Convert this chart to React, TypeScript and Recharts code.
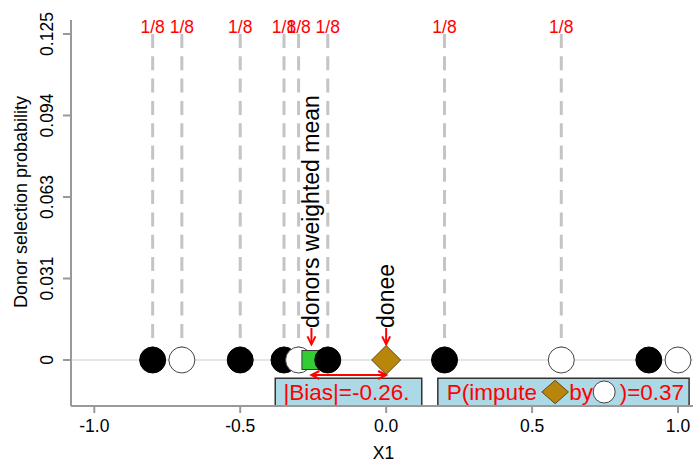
import { ComposedChart, Scatter, XAxis, YAxis, ReferenceLine, ReferenceArea } from 'recharts';

// units on X1: filled = responding unit, open = other class
const unitX = [-0.8, -0.7, -0.5, -0.35, -0.3, -0.2, 0.2, 0.6, 0.9, 1.0];
const unitFilled = [true, false, true, true, false, true, true, false, true, false];

// donors and their selection probability
const donorX = [-0.8, -0.7, -0.5, -0.35, -0.3, -0.2, 0.2, 0.6];
const donorProb = [0.125, 0.125, 0.125, 0.125, 0.125, 0.125, 0.125, 0.125];
const donorLabel = ['1/8', '1/8', '1/8', '1/8', '1/8', '1/8', '1/8', '1/8'];

const doneeX = 0;
const weightedMean = -0.256;

const biasText = '|Bias|=-0.26.';
const probText = ['P(impute', 'by', ')=0.37'];

const xTicks = [-1, -0.5, 0, 0.5, 1];
const xTickLabels = ['-1.0', '-0.5', '0.0', '0.5', '1.0'];
const yTicks = [0, 0.03125, 0.0625, 0.09375, 0.125];
const yTickLabels = ['0', '0.031', '0.063', '0.094', '0.125'];

// layout (data units)
const X_DOMAIN: [number, number] = [-1.0798, 1.0616];
const Y_DOMAIN: [number, number] = [-0.01764, 0.13037];
const ARROW_TOP = 0.0123;
const ARROW_TIP = 0.006;
const BIAS_Y = -0.00575;
const BOX_TOP = -0.00702;
const BOX_TEXT_Y = -0.01534;
const BOX_GLYPH_Y = -0.01227;
const BIAS_BOX = [-0.38, 0.122];
const PROB_BOX = [0.177, 1.038];
const BIAS_TEXT_X = -0.352;
const PROB_TEXT_X = [0.208, 0.627, 0.8];
const PROB_GLYPH_X = [0.579, 0.747];

const RED = '#ff0000';
const AXIS = '#999999';
const FONT = "'Liberation Sans', Arial, sans-serif";

const units = unitX.map((x, i) => ({ x, y: 0, filled: unitFilled[i] }));
const leftUnits = units.filter((u) => u.x < weightedMean);
const rightUnits = units.filter((u) => u.x > weightedMean);
const donors = donorX.map((x, i) => ({ x, y: donorProb[i], label: donorLabel[i] }));
const notes = [
  { x: weightedMean, y: ARROW_TOP, text: 'donors weighted mean' },
  { x: doneeX, y: ARROW_TOP, text: 'donee' },
];
const heads = [
  { x: weightedMean, y: ARROW_TIP, dir: 'down' },
  { x: doneeX, y: ARROW_TIP, dir: 'down' },
  { x: weightedMean, y: BIAS_Y, dir: 'left' },
  { x: doneeX, y: BIAS_Y, dir: 'right' },
];
const boxTexts = [
  { x: BIAS_TEXT_X, y: BOX_TEXT_Y, text: biasText },
  ...probText.map((t, i) => ({ x: PROB_TEXT_X[i], y: BOX_TEXT_Y, text: t })),
];
const boxGlyphs = [
  { x: PROB_GLYPH_X[0], y: BOX_GLYPH_Y, kind: 'diamond' },
  { x: PROB_GLYPH_X[1], y: BOX_GLYPH_Y, kind: 'circle' },
];

function diamond(cx: number, cy: number, hw: number, hh: number) {
  return (
    <polygon
      points={`${cx},${cy - hh} ${cx + hw},${cy} ${cx},${cy + hh} ${cx - hw},${cy}`}
      fill="#b8860b"
      stroke="#5c4a12"
      strokeWidth={1}
    />
  );
}

const unitShape = (p: any) => (
  <circle
    cx={p.cx}
    cy={p.cy}
    r={13}
    fill={p.payload.filled ? '#000' : '#fff'}
    stroke={p.payload.filled ? '#000' : '#444'}
    strokeWidth={1}
  />
);

const headShape = (p: any) => {
  const { cx, cy } = p;
  const d = p.payload.dir;
  let pts = '';
  if (d === 'down') pts = `${cx - 4},${cy - 8} ${cx},${cy} ${cx + 4},${cy - 8}`;
  if (d === 'left') pts = `${cx + 8},${cy - 4} ${cx},${cy} ${cx + 8},${cy + 4}`;
  if (d === 'right') pts = `${cx - 8},${cy - 4} ${cx},${cy} ${cx - 8},${cy + 4}`;
  return <polyline points={pts} fill="none" stroke={RED} strokeWidth={2} />;
};

function XTick({ x, y, payload }: any) {
  const i = xTicks.indexOf(payload.value);
  return (
    <text x={x} y={y + 19} textAnchor="middle" fontSize={17.5} fill="#000" fontFamily={FONT}>
      {xTickLabels[i]}
    </text>
  );
}

function YTick({ x, y, payload }: any) {
  const i = yTicks.indexOf(payload.value);
  return (
    <text
      transform={`translate(${x - 10},${y}) rotate(-90)`}
      textAnchor="middle"
      fontSize={17.5}
      fill="#000"
      fontFamily={FONT}
    >
      {yTickLabels[i]}
    </text>
  );
}

export default function App() {
  return (
    <div style={{ position: 'absolute', left: 0, top: 0, width: 693, height: 463, overflow: 'hidden', background: '#fff', fontFamily: FONT }}>
      <ComposedChart width={700} height={463} margin={{ top: 20, right: 4, left: 0, bottom: 0 }}>
        <XAxis
          xAxisId="top"
          orientation="top"
          type="number"
          dataKey="x"
          domain={X_DOMAIN}
          allowDataOverflow
          height={0}
          tick={false}
          tickLine={false}
          stroke={AXIS}
          strokeWidth={2}
        />
        <XAxis
          type="number"
          dataKey="x"
          domain={X_DOMAIN}
          allowDataOverflow
          ticks={xTicks}
          interval={0}
          height={57}
          tickSize={7}
          tickMargin={0}
          tick={<XTick />}
          stroke={AXIS}
          strokeWidth={2}
          label={(p: any) => {
            const vb = p.viewBox;
            return (
              <text x={vb.x + vb.width / 2} y={vb.y + 53} textAnchor="middle" fontSize={17.5} fill="#000" fontFamily={FONT}>
                X1
              </text>
            );
          }}
        />
        <YAxis
          type="number"
          dataKey="y"
          domain={Y_DOMAIN}
          allowDataOverflow
          ticks={yTicks}
          interval={0}
          width={71}
          tickSize={8}
          tickMargin={0}
          tick={<YTick />}
          stroke={AXIS}
          strokeWidth={2}
          label={(p: any) => {
            const vb = p.viewBox;
            return (
              <text
                transform={`translate(${vb.x + 26.5},${vb.y + vb.height / 2 - 11}) rotate(-90)`}
                textAnchor="middle"
                fontSize={18}
                fill="#000"
                fontFamily={FONT}
              >
                Donor selection probability
              </text>
            );
          }}
        />

        <ReferenceLine y={0} stroke="#dddddd" strokeWidth={1.5} />
        {donorX.map((x, i) => (
          <ReferenceLine
            key={'d' + i}
            segment={[{ x, y: donorProb[i] }, { x, y: 0 }]}
            stroke="#c4c4c4"
            strokeWidth={3}
            strokeDasharray="14 8.3"
          />
        ))}

        <ReferenceArea x1={BIAS_BOX[0]} x2={BIAS_BOX[1]} y1={Y_DOMAIN[0]} y2={BOX_TOP} fill="#add8e6" fillOpacity={1} stroke="#333" strokeWidth={1.5} />
        <ReferenceArea x1={PROB_BOX[0]} x2={PROB_BOX[1]} y1={Y_DOMAIN[0]} y2={BOX_TOP} fill="#add8e6" fillOpacity={1} stroke="#333" strokeWidth={1.5} />

        <ReferenceLine segment={[{ x: weightedMean, y: ARROW_TOP }, { x: weightedMean, y: ARROW_TIP }]} stroke={RED} strokeWidth={2} />
        <ReferenceLine segment={[{ x: doneeX, y: ARROW_TOP }, { x: doneeX, y: ARROW_TIP }]} stroke={RED} strokeWidth={2} />
        <ReferenceLine segment={[{ x: weightedMean, y: BIAS_Y }, { x: doneeX, y: BIAS_Y }]} stroke={RED} strokeWidth={2} />

        <Scatter data={donors} isAnimationActive={false} shape={(p: any) => (
          <text x={p.cx} y={p.cy - 1} textAnchor="middle" fontSize={17.5} fill={RED} fontFamily={FONT}>{p.payload.label}</text>
        )} />
        <Scatter data={leftUnits} isAnimationActive={false} shape={unitShape} />
        <Scatter data={[{ x: weightedMean, y: 0 }]} isAnimationActive={false} shape={(p: any) => (
          <rect x={p.cx - 9.5} y={p.cy - 9.5} width={19} height={19} fill="#32cd32" stroke="#3a3a3a" strokeWidth={1} />
        )} />
        <Scatter data={rightUnits} isAnimationActive={false} shape={unitShape} />
        <Scatter data={[{ x: doneeX, y: 0 }]} isAnimationActive={false} shape={(p: any) => diamond(p.cx, p.cy, 14.5, 14.5)} />
        <Scatter data={heads} isAnimationActive={false} shape={headShape} />
        <Scatter data={notes} isAnimationActive={false} shape={(p: any) => (
          <text transform={`translate(${p.cx + 8},${p.cy}) rotate(-90)`} textAnchor="start" fontSize={23} fill="#000" fontFamily={FONT}>
            {p.payload.text}
          </text>
        )} />
        <Scatter data={boxTexts} isAnimationActive={false} shape={(p: any) => (
          <text x={p.cx} y={p.cy} textAnchor="start" fontSize={22.5} fill={RED} fontFamily={FONT}>{p.payload.text}</text>
        )} />
        <Scatter data={boxGlyphs} isAnimationActive={false} shape={(p: any) =>
          p.payload.kind === 'diamond'
            ? diamond(p.cx, p.cy, 13.3, 11.7)
            : <circle cx={p.cx} cy={p.cy} r={11} fill="#fff" stroke="#444" strokeWidth={1} />
        } />
      </ComposedChart>
    </div>
  );
}
